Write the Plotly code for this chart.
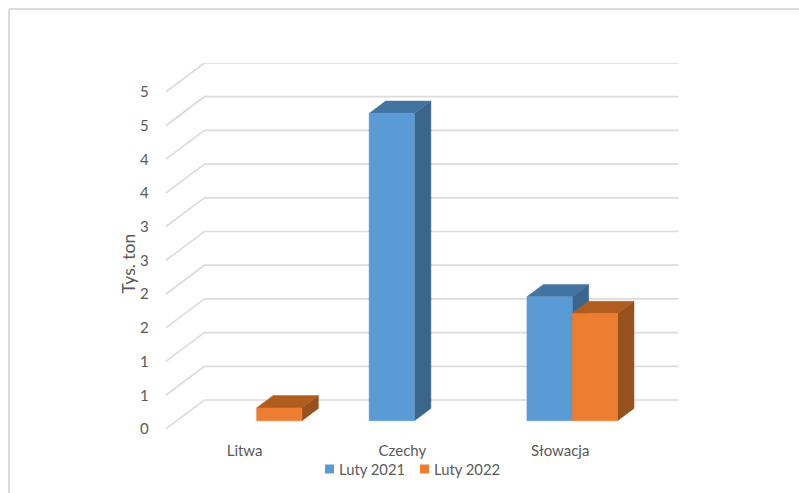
import plotly.graph_objects as go

# Chart data (thousand tonnes)
categories = ["Litwa", "Czechy", "Słowacja"]
luty_2021 = [None, 4.56, 1.84]
luty_2022 = [0.19, None, 1.59]
series_names = ["Luty 2021", "Luty 2022"]
tick_values = [0, 0.5, 1, 1.5, 2, 2.5, 3, 3.5, 4, 4.5, 5]
tick_labels = ["0", "1", "1", "2", "2", "3", "3", "4", "4", "5", "5"]

WIDTH, HEIGHT = 799, 493
TEXT = "#595959"
GRID = "#dcdcdc"
FONT = "Lato, Carlito, sans-serif"

# Page-to-plot geometry
LEFT, RIGHT, TOP, BOTTOM = 165.7, 678.7, 63.0, 429.0
CAT_PX = 157.8                 # width of one category on the front plane
UNIT_PX = 67.4                 # height of one value unit
WALL_DX, WALL_DY = 38.7, 29.0  # oblique offset floor front -> back wall
FLOOR_END = (RIGHT - LEFT - WALL_DX) / CAT_PX

# Oblique projection: category position, value, depth (0 front .. 1 back)
def project(c, v, d):
    return c + d * WALL_DX / CAT_PX, v + d * WALL_DY / UNIT_PX

BAR_WIDTH = 45.3 / CAT_PX
BAR_SHIFT = 1.0 / CAT_PX
DEPTH_FRONT, DEPTH_BACK = 0.285, 0.71

def face(corners):
    pts = [project(*p) for p in corners]
    pts.append(pts[0])
    return [p[0] for p in pts], [p[1] for p in pts]

def add_face(fig, corners, colour):
    xs, ys = face(corners)
    fig.add_trace(go.Scatter(
        x=xs, y=ys, mode="lines", fill="toself", fillcolor=colour,
        line=dict(color=colour, width=0.5), hoverinfo="skip", showlegend=False,
    ))

def add_bar(fig, left, value, front, side, top):
    right = left + BAR_WIDTH
    d0, d1 = DEPTH_FRONT, DEPTH_BACK
    add_face(fig, [(right, 0, d0), (right, 0, d1), (right, value, d1), (right, value, d0)], side)
    add_face(fig, [(left, value, d0), (right, value, d0), (right, value, d1), (left, value, d1)], top)
    add_face(fig, [(left, 0, d0), (right, 0, d0), (right, value, d0), (left, value, d0)], front)

fig = go.Figure()

# Back wall gridlines with their oblique returns to the value axis
for v in tick_values:
    xs, ys = zip(*[project(0, v, 0), project(0, v, 1), project(FLOOR_END, v, 1)])
    fig.add_trace(go.Scatter(
        x=xs, y=ys, mode="lines", line=dict(color=GRID, width=1.7),
        hoverinfo="skip", showlegend=False,
    ))

# Bars, drawn back series first so that the later series overlaps its side face
series = [
    (luty_2021, -1, "#5B9BD5", "#3B668C", "#4274A1"),
    (luty_2022, 0, "#ED7D31", "#96511E", "#B25D20"),
]
for values, slot, front, side, top in series:
    for i, value in enumerate(values):
        if value is not None:
            add_bar(fig, i + 0.5 + BAR_SHIFT + slot * BAR_WIDTH, value, front, side, top)

px = lambda x: x / WIDTH
py = lambda y: 1 - y / HEIGHT

shapes = [
    # Chart frame (top and left edges)
    dict(type="line", xref="paper", yref="paper", x0=px(9), x1=1, y0=py(9), y1=py(9),
         line=dict(color=GRID, width=2)),
    dict(type="line", xref="paper", yref="paper", x0=px(9), x1=px(9), y0=py(9), y1=0,
         line=dict(color=GRID, width=2)),
]
annotations = [
    dict(text="Tys. ton", xref="paper", yref="paper", x=px(127.5), y=py(264), textangle=-90,
         xanchor="center", yanchor="middle", showarrow=False,
         font=dict(family=FONT, size=17.5, color=TEXT)),
]

# Legend row
legend_items = [(series_names[0], "#5B9BD5", 325), (series_names[1], "#ED7D31", 420)]
for name, colour, x in legend_items:
    shapes.append(dict(type="rect", xref="paper", yref="paper", x0=px(x), x1=px(x + 9),
                       y0=py(473.5), y1=py(464.5), fillcolor=colour, line=dict(width=0)))
    annotations.append(dict(text=name, xref="paper", yref="paper", x=px(x + 12), y=py(469),
                            xanchor="left", yanchor="middle", showarrow=False,
                            font=dict(family=FONT, size=14.8, color=TEXT)))

fig.update_layout(
    width=WIDTH, height=HEIGHT,
    margin=dict(l=0, r=0, t=0, b=0),
    paper_bgcolor="white", plot_bgcolor="white",
    showlegend=False,
    shapes=shapes, annotations=annotations,
    font=dict(family=FONT, color=TEXT),
    xaxis=dict(
        domain=[LEFT / WIDTH, RIGHT / WIDTH],
        range=[0, (RIGHT - LEFT) / CAT_PX],
        tickvals=[0.5, 1.5, 2.5], ticktext=categories,
        ticks="outside", ticklen=8, tickcolor="rgba(0,0,0,0)",
        tickfont=dict(family=FONT, size=15, color=TEXT),
        showgrid=False, zeroline=False, showline=False, automargin=False,
    ),
    yaxis=dict(
        domain=[1 - BOTTOM / HEIGHT, 1 - TOP / HEIGHT],
        range=[0, (BOTTOM - TOP) / UNIT_PX],
        tickvals=tick_values, ticktext=tick_labels,
        ticks="outside", ticklen=13, tickcolor="rgba(0,0,0,0)",
        tickfont=dict(family=FONT, size=15, color=TEXT),
        showgrid=False, zeroline=False, showline=False, automargin=False,
    ),
)

fig.write_html("out.html", config=dict(displayModeBar=False))
